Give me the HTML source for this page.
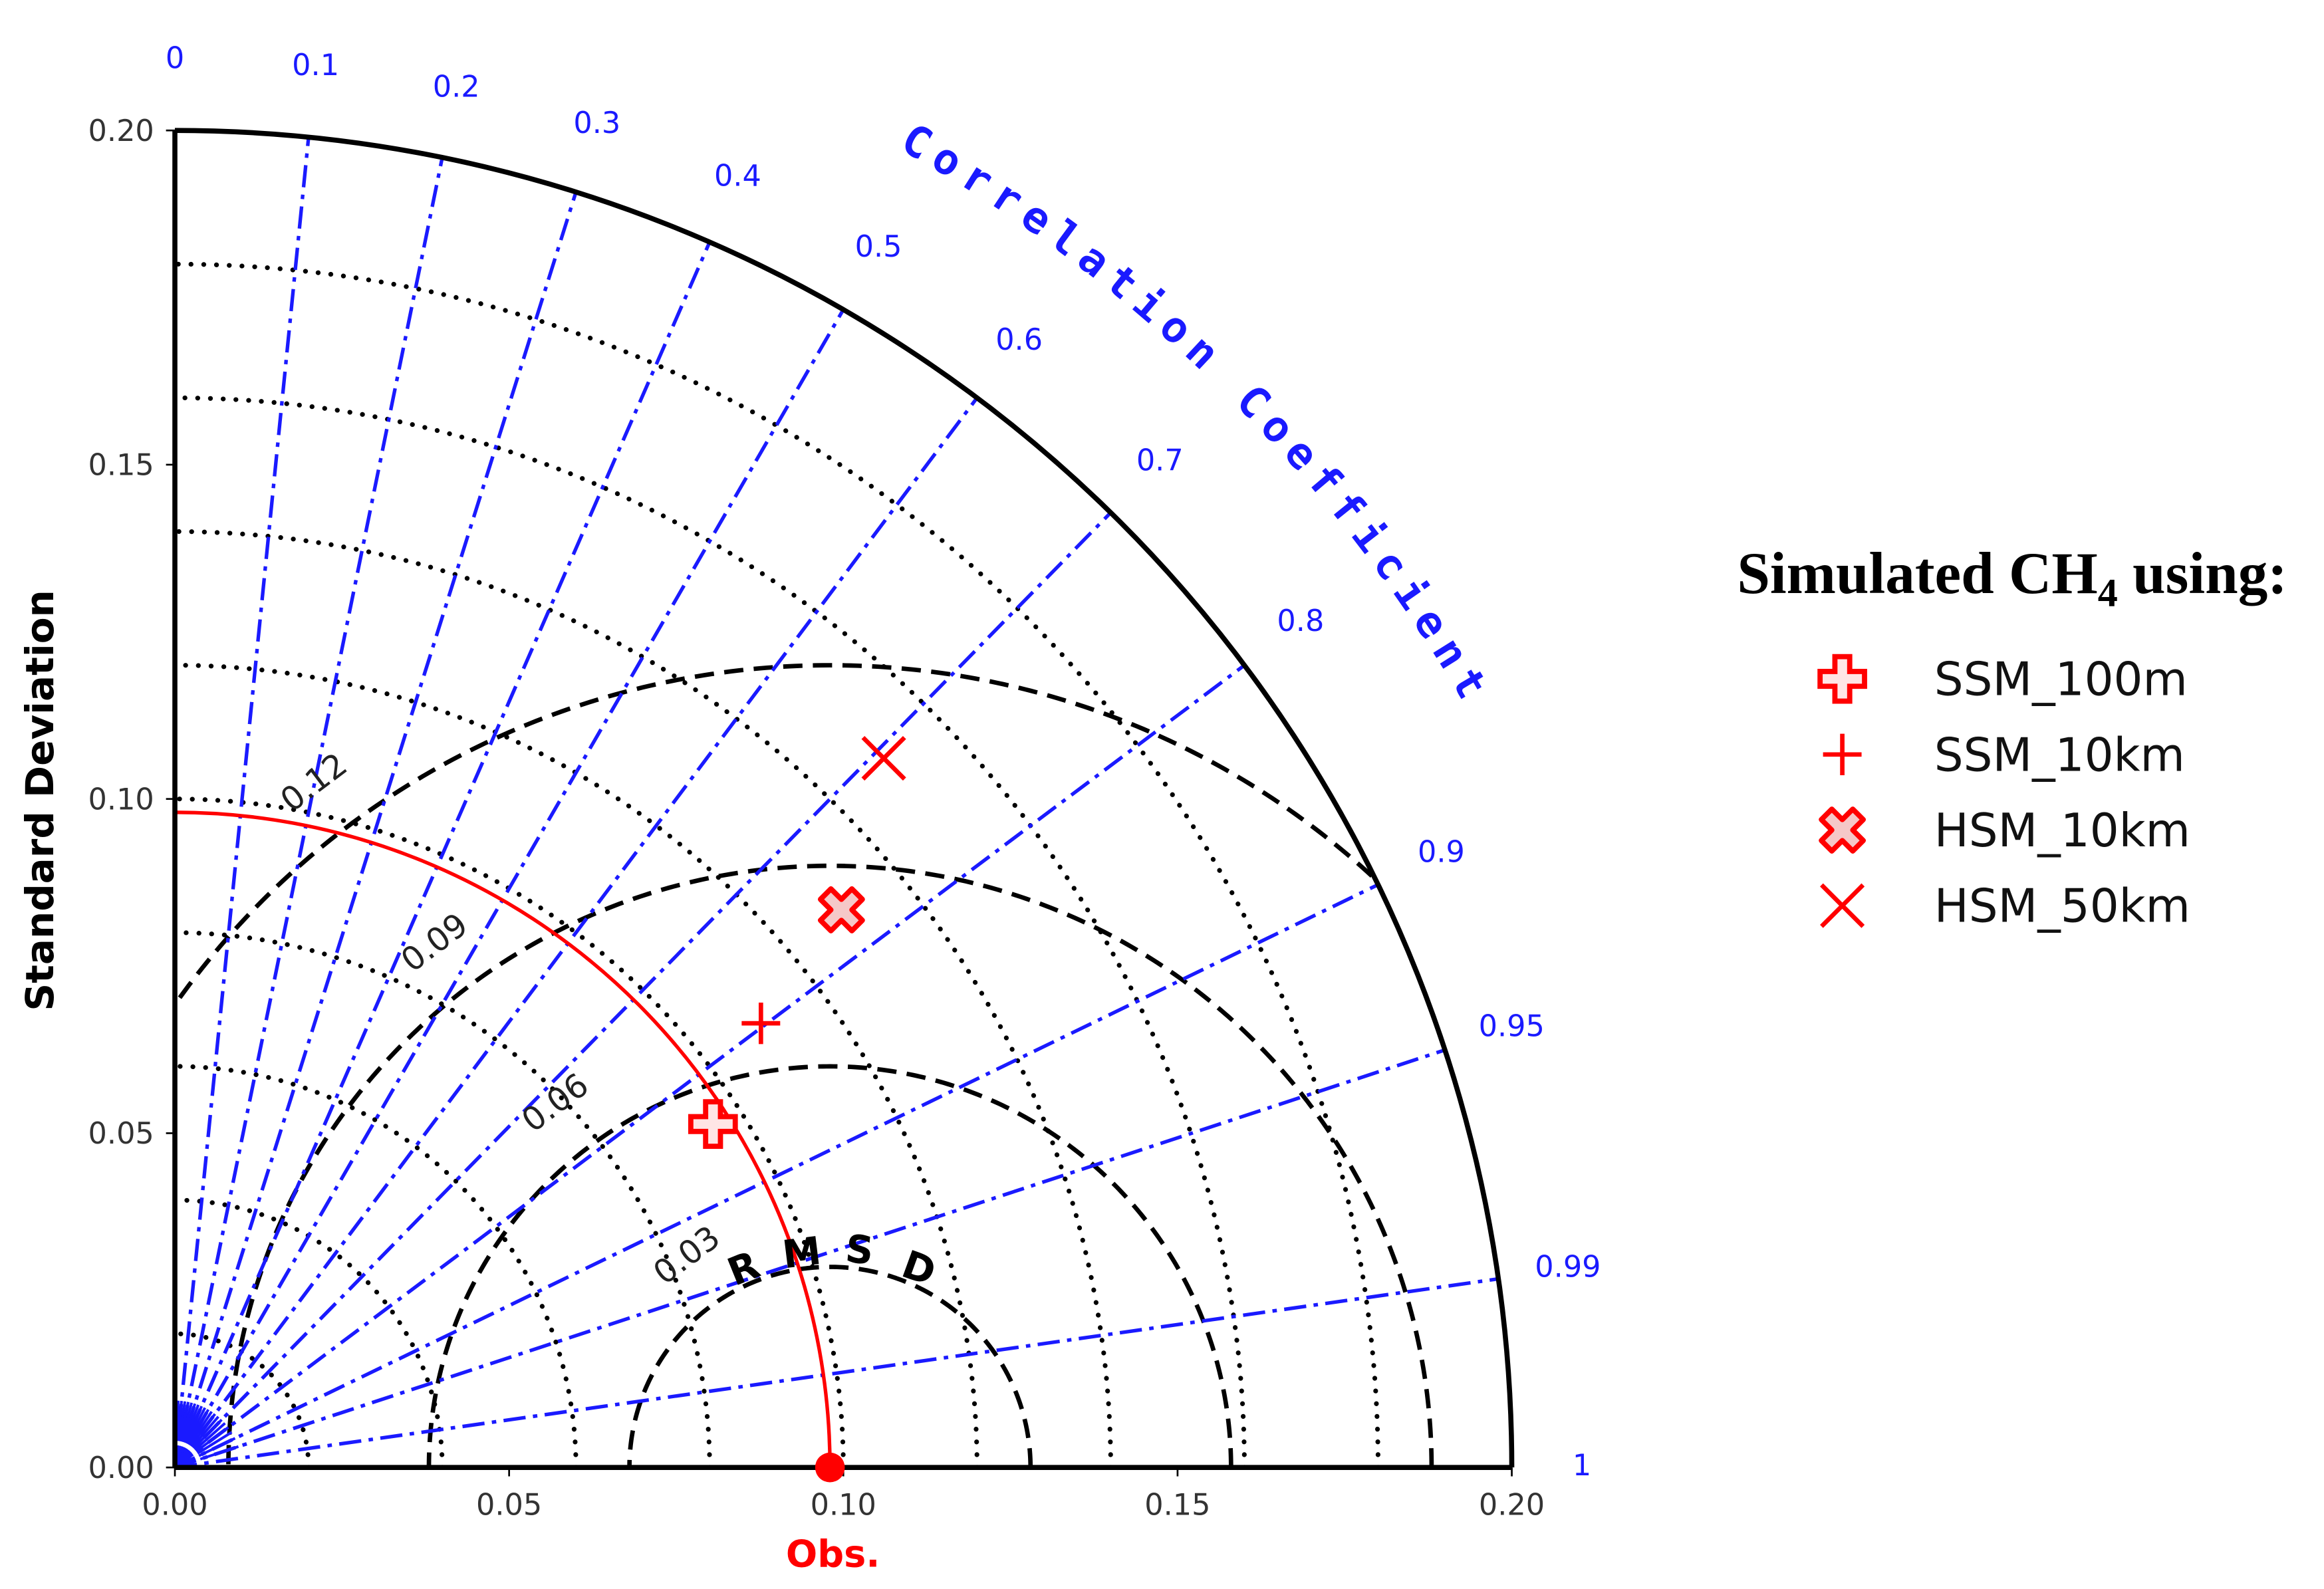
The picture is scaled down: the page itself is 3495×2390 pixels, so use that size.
<!DOCTYPE html>
<html><head><meta charset="utf-8"><style>
html,body{margin:0;padding:0;background:#fff;}
svg{display:block;}
</style></head><body>
<svg id="chart" xmlns="http://www.w3.org/2000/svg" width="3495" height="2390" viewBox="0 0 1568 1072" preserveAspectRatio="none">
<g id="grid"></g>
<g id="marks"></g>
<g id="labels"></g>
</svg>
<script>
const corrTicks = [0.1,0.2,0.3,0.4,0.5,0.6,0.7,0.8,0.9,0.95,0.99];
const corrLabels = ["0","0.1","0.2","0.3","0.4","0.5","0.6","0.7","0.8","0.9","0.95","0.99","1"];
const corrLabelVals = [0,0.1,0.2,0.3,0.4,0.5,0.6,0.7,0.8,0.9,0.95,0.99,1];
const stdArcs = [0.02,0.04,0.06,0.08,0.10,0.12,0.14,0.16,0.18];
const rmsdArcs = [0.03,0.06,0.09,0.12];
const rmsdLabels = ["0.03","0.06","0.09","0.12"];
const axisTicks = [0,0.05,0.10,0.15,0.20];
const axisTickLabels = ["0.00","0.05","0.10","0.15","0.20"];
const obsStd = 0.098;
const seriesNames = ["SSM_100m","SSM_10km","HSM_10km","HSM_50km"];
const seriesStd = [0.0955,0.110,0.130,0.150];
const seriesCorr = [0.843,0.797,0.767,0.707];

const NS="http://www.w3.org/2000/svg";
const OX=118, OY=990, MAXS=0.2, RPX=902;
const sx=v=>OX+v/MAXS*RPX;
const sy=v=>OY-v/MAXS*RPX;
const polar=(s,c)=>{const a=Math.acos(c);return [sx(s*Math.cos(a)), sy(s*Math.sin(a))];};
function mk(tag,attrs,parent,text){const e=document.createElementNS(NS,tag);for(const k in attrs)e.setAttribute(k,attrs[k]);if(text!==undefined)e.textContent=text;parent.appendChild(e);return e;}
const G=document.getElementById('grid'),M=document.getElementById('marks'),L=document.getElementById('labels');
const FS='"DejaVu Sans","Liberation Sans",sans-serif';

stdArcs.forEach(s=>{
  const r=s/MAXS*RPX;
  const e=mk('path',{d:`M ${OX+r} ${OY} A ${r} ${r} 0 0 0 ${OX} ${OY-r}`,fill:'none',stroke:'#000','stroke-width':3.2,'stroke-dasharray':'0.1 8.5','stroke-linecap':'round'},G);
  
  
});
rmsdArcs.forEach((rv,i)=>{
  const pts=[];
  for(let t=0;t<=180;t+=0.5){
    const a=t*Math.PI/180;const x=obsStd+rv*Math.cos(a), y=rv*Math.sin(a);
    if(x>=0 && Math.hypot(x,y)<=MAXS) pts.push([sx(x),sy(y)]);
  }
  const e=mk('polyline',{points:pts.map(p=>p.join(',')).join(' '),fill:'none',stroke:'#000','stroke-width':3,'stroke-dasharray':'13 7'},G);
  
  
  const a=(i===0?124:127)*Math.PI/180, rr=rv+0.008;
  const lx=sx(obsStd+rr*Math.cos(a)), ly=sy(rr*Math.sin(a));
  const t=mk('text',{x:lx,y:ly,'font-size':22,'font-family':FS,fill:'#222','text-anchor':'middle','dominant-baseline':'middle',transform:`rotate(-37 ${lx} ${ly})`},L,rmsdLabels[i]);
  
  
});
corrTicks.forEach(c=>{
  const [x,y]=polar(MAXS,c);
  const e=mk('line',{x1:OX,y1:OY,x2:x,y2:y,stroke:'#1a1aff','stroke-width':2.4,'stroke-dasharray':'15 5 3 5'},G);
  
  
});
for(let k=1;k<20;k++){const c=k*0.05;const [x,y]=polar(0.01,c);const [x0,y0]=polar(0.004,c);
  const e=mk('line',{x1:x0,y1:y0,x2:x,y2:y,stroke:'#1a1aff','stroke-width':1.8},G);
  
  }
const fan=mk('path',{d:`M ${OX} ${OY} L ${OX+11} ${OY} A 11 11 0 0 0 ${OX} ${OY-11} Z`,fill:'#1a1aff'},G);


corrLabelVals.forEach((c,i)=>{
  const [x,y]=polar(0.2105,c);
  const t=mk('text',{x:x,y:y,'font-size':20,'font-family':FS,fill:'#1a1aff','text-anchor':'middle','dominant-baseline':'middle'},L,corrLabels[i]);
  
  
});
const ro=obsStd/MAXS*RPX;
const oa=mk('path',{d:`M ${OX+ro} ${OY} A ${ro} ${ro} 0 0 0 ${OX} ${OY-ro}`,fill:'none',stroke:'#ff0000','stroke-width':2.4},G);


const ob=mk('path',{d:`M ${OX+RPX} ${OY} A ${RPX} ${RPX} 0 0 0 ${OX} ${OY-RPX}`,fill:'none',stroke:'#000','stroke-width':3.4},G);


const xa=mk('line',{x1:OX,y1:OY,x2:OX+RPX,y2:OY,stroke:'#000','stroke-width':3.4},G);


const ya=mk('line',{x1:OX,y1:OY,x2:OX,y2:OY-RPX,stroke:'#000','stroke-width':3.4},G);


axisTicks.forEach((v,i)=>{
  mk('line',{x1:sx(v),y1:OY,x2:sx(v),y2:OY+6,stroke:'#000','stroke-width':1.2},G);
  mk('line',{x1:OX,y1:sy(v),x2:OX-6,y2:sy(v),stroke:'#000','stroke-width':1.2},G);
  const tx=mk('text',{x:sx(v),y:OY+32,'font-size':20,'font-family':FS,fill:'#333','text-anchor':'middle'},L,axisTickLabels[i]);
  
  
  const ty=mk('text',{x:OX-14,y:sy(v)+7,'font-size':20,'font-family':FS,fill:'#333','text-anchor':'end'},L,axisTickLabels[i]);
  
  
});
const od=mk('circle',{cx:sx(obsStd),cy:OY,r:10,fill:'#ff0000'},M);



function marker(type,x,y,parent){
  const g=mk('g',{transform:`translate(${x} ${y})`},parent);
  if(type===0){
    mk('path',{d:'M -5 -15 H 5 V -5 H 15 V 5 H 5 V 15 H -5 V 5 H -15 V -5 H -5 Z',fill:'#ffe5e5',stroke:'#ff0000','stroke-width':3.5},g);
  } else if(type===1){
    mk('path',{d:'M -13 0 H 13 M 0 -14 V 14',stroke:'#ff0000','stroke-width':3},g);
  } else if(type===2){
    mk('path',{d:'M -5 -15 H 5 V -5 H 15 V 5 H 5 V 15 H -5 V 5 H -15 V -5 H -5 Z',fill:'#f5c8c8',stroke:'#ff0000','stroke-width':3.5,'stroke-linejoin':'round',transform:'rotate(45)'},g);
  } else {
    mk('path',{d:'M -14 -14 L 14 14 M -14 14 L 14 -14',stroke:'#ff0000','stroke-width':3},g);
  }
  return g;
}
seriesNames.forEach((n,i)=>{
  const [x,y]=polar(seriesStd[i],seriesCorr[i]);
  const g=marker(i,x,y,M);
  
  
  const lg=marker(i,1243,458+i*51,M);
  
  
  const t=mk('text',{x:1305,y:469+i*51,'font-size':31,'font-family':FS,fill:'#111'},L,n);
  
  
});
</script>
<svg style="position:absolute;left:0;top:0" width="3495" height="2390" viewBox="0 0 1568 1072" preserveAspectRatio="none">
<text x="36" y="540" transform="rotate(-90 36 540)" font-family="'DejaVu Sans','Liberation Sans',sans-serif" font-weight="bold" font-size="26" text-anchor="middle" fill="#000">Standard Deviation</text>
<text x="562" y="1057" font-family="'DejaVu Sans','Liberation Sans',sans-serif" font-weight="bold" font-size="25" text-anchor="middle" fill="#ff0000">Obs.</text>
<path id="ccPath" d="M 606 100 A 1008 1008 0 0 1 992 482" fill="none" stroke="none"/>
<text font-family="'DejaVu Sans Mono','Liberation Mono',monospace" font-weight="bold" font-size="29" fill="#1a1aff"><textPath href="#ccPath" textLength="540" lengthAdjust="spacing">Correlation Coefficient</textPath></text>
<g font-family="'DejaVu Sans','Liberation Sans',sans-serif" font-weight="bold" font-size="26" fill="#000" text-anchor="middle">
<text x="505" y="864" transform="rotate(-22 505 864)">R</text>
<text x="542" y="854" transform="rotate(-7 542 854)">M</text>
<text x="579" y="852" transform="rotate(6 579 852)">S</text>
<text x="617" y="864" transform="rotate(20 617 864)">D</text>
</g>
<text x="1172" y="400" font-family="'Liberation Serif',serif" font-weight="bold" font-size="40" fill="#000">Simulated CH<tspan font-size="27" dy="9">4</tspan><tspan dy="-9"> using:</tspan></text>
</svg>
</body></html>
